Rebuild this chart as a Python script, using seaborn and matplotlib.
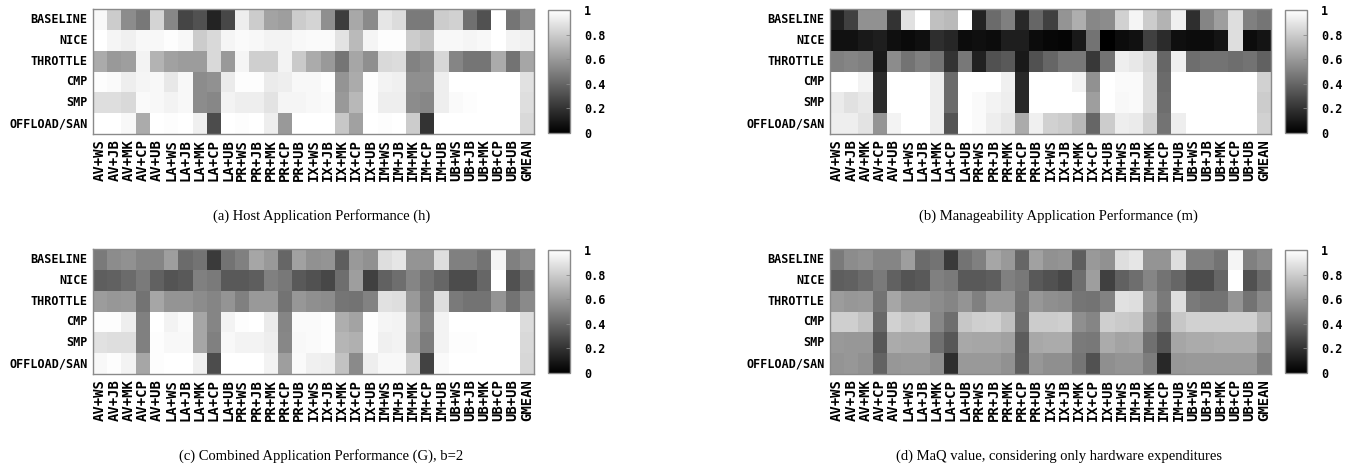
import numpy as np
import pandas as pd
import matplotlib
matplotlib.use("Agg")
import matplotlib.pyplot as plt
import seaborn as sns

configs = ["BASELINE", "NICE", "THROTTLE", "CMP", "SMP", "OFFLOAD/SAN"]
workloads = ["AV+WS", "AV+JB", "AV+MK", "AV+CP", "AV+UB",
             "LA+WS", "LA+JB", "LA+MK", "LA+CP", "LA+UB",
             "PR+WS", "PR+JB", "PR+MK", "PR+CP", "PR+UB",
             "IX+WS", "IX+JB", "IX+MK", "IX+CP", "IX+UB",
             "IM+WS", "IM+JB", "IM+MK", "IM+CP", "IM+UB",
             "UB+WS", "UB+JB", "UB+MK", "UB+CP", "UB+UB", "GMEAN"]

# (a) host application performance h
h_baseline = [0.97, 0.80, 0.55, 0.47, 0.83, 0.53, 0.27, 0.32, 0.14, 0.28, 0.93, 0.80, 0.64, 0.62, 0.80, 0.83,
              0.56, 0.24, 0.66, 0.54, 0.90, 0.86, 0.48, 0.48, 0.80, 0.82, 0.44, 0.32, 1.00, 0.46, 0.55]
h_nice = [1.00, 0.96, 0.94, 0.97, 0.97, 0.99, 0.97, 0.80, 0.85, 0.96, 0.98, 0.97, 0.95, 0.95, 0.97, 0.98,
          0.98, 0.89, 0.73, 0.96, 0.99, 0.99, 0.80, 0.76, 0.97, 0.97, 0.96, 0.97, 1.00, 0.95, 0.94]
h_throttle = [0.67, 0.60, 0.62, 0.95, 0.70, 0.63, 0.61, 0.61, 0.85, 0.60, 0.96, 0.81, 0.81, 0.95, 0.79, 0.67,
              0.60, 0.46, 0.65, 0.56, 0.85, 0.86, 0.51, 0.54, 0.84, 0.52, 0.46, 0.46, 0.67, 0.45, 0.65]
h_cmp = [0.99, 0.98, 0.93, 0.96, 0.97, 0.91, 0.97, 0.55, 0.57, 0.92, 0.99, 0.99, 0.92, 0.93, 0.97, 0.97,
         0.99, 0.58, 0.67, 0.99, 0.95, 0.94, 0.56, 0.56, 0.93, 1.00, 1.00, 1.00, 1.00, 1.00, 0.88]
h_smp = [0.87, 0.87, 0.85, 0.98, 0.97, 0.95, 0.97, 0.55, 0.53, 0.95, 0.93, 0.93, 0.89, 0.96, 0.96, 0.97,
         0.98, 0.60, 0.72, 0.99, 0.93, 0.93, 0.55, 0.53, 0.93, 0.98, 0.99, 1.00, 1.00, 1.00, 0.87]
h_offload = [1.00, 1.00, 0.97, 0.67, 1.00, 0.99, 1.00, 0.94, 0.30, 1.00, 0.99, 1.00, 0.93, 0.60, 1.00, 1.00,
             1.00, 0.78, 0.63, 1.00, 0.99, 1.00, 0.80, 0.20, 1.00, 1.00, 1.00, 1.00, 1.00, 1.00, 0.85]

# (b) manageability application performance m
m_baseline = [0.13, 0.25, 0.57, 0.57, 0.20, 0.88, 1.00, 0.75, 0.73, 1.00, 0.14, 0.42, 0.50, 0.16, 0.40, 0.25,
              0.58, 0.68, 0.53, 0.55, 0.82, 0.96, 0.80, 0.70, 0.94, 0.18, 0.52, 0.62, 0.87, 0.50, 0.46]
m_nice = [0.07, 0.07, 0.10, 0.12, 0.06, 0.04, 0.06, 0.18, 0.15, 0.05, 0.06, 0.05, 0.12, 0.12, 0.05, 0.03,
          0.02, 0.10, 0.45, 0.00, 0.05, 0.07, 0.25, 0.17, 0.06, 0.05, 0.05, 0.08, 0.87, 0.05, 0.08]
m_throttle = [0.50, 0.52, 0.50, 0.10, 0.55, 0.45, 0.50, 0.45, 0.20, 0.47, 0.13, 0.32, 0.35, 0.10, 0.32, 0.40,
              0.47, 0.47, 0.22, 0.45, 0.93, 0.91, 0.85, 0.40, 0.94, 0.43, 0.45, 0.45, 0.43, 0.45, 0.38]
m_cmp = [1.00, 1.00, 0.95, 0.17, 1.00, 1.00, 1.00, 0.93, 0.42, 1.00, 1.00, 1.00, 0.94, 0.16, 1.00, 1.00,
         1.00, 0.95, 0.57, 1.00, 0.98, 0.98, 0.87, 0.42, 1.00, 1.00, 1.00, 1.00, 1.00, 1.00, 0.82]
m_smp = [0.92, 0.88, 0.91, 0.17, 1.00, 1.00, 1.00, 0.93, 0.42, 1.00, 0.98, 0.95, 0.93, 0.16, 1.00, 1.00,
         1.00, 1.00, 0.62, 1.00, 0.97, 0.98, 0.87, 0.43, 1.00, 1.00, 1.00, 1.00, 1.00, 1.00, 0.80]
m_offload = [0.93, 0.93, 0.89, 0.58, 0.95, 1.00, 1.00, 0.93, 0.33, 1.00, 0.98, 0.93, 0.90, 0.67, 0.94, 0.82,
             0.80, 0.72, 0.40, 0.80, 0.93, 0.92, 0.82, 0.45, 0.93, 1.00, 1.00, 1.00, 1.00, 1.00, 0.82]

# (c) combined application performance G, b=2
g_baseline = [0.48, 0.55, 0.57, 0.52, 0.52, 0.62, 0.42, 0.45, 0.23, 0.45, 0.50, 0.65, 0.60, 0.40, 0.63, 0.57,
              0.58, 0.37, 0.60, 0.57, 0.87, 0.90, 0.58, 0.58, 0.87, 0.50, 0.50, 0.45, 0.96, 0.50, 0.55]
g_nice = [0.37, 0.38, 0.42, 0.48, 0.38, 0.33, 0.35, 0.50, 0.48, 0.35, 0.35, 0.37, 0.50, 0.47, 0.35, 0.32,
          0.28, 0.43, 0.62, 0.25, 0.38, 0.43, 0.52, 0.45, 0.40, 0.30, 0.30, 0.40, 1.00, 0.32, 0.42]
g_throttle = [0.61, 0.59, 0.60, 0.45, 0.65, 0.58, 0.58, 0.55, 0.52, 0.58, 0.50, 0.60, 0.60, 0.45, 0.59, 0.56,
              0.55, 0.46, 0.45, 0.51, 0.88, 0.87, 0.60, 0.48, 0.87, 0.48, 0.45, 0.45, 0.58, 0.45, 0.54]
g_cmp = [0.99, 0.99, 0.93, 0.50, 1.00, 0.95, 0.98, 0.65, 0.52, 0.95, 0.99, 1.00, 0.92, 0.52, 0.98, 0.98,
         0.99, 0.68, 0.64, 0.99, 0.96, 0.95, 0.66, 0.52, 0.95, 1.00, 1.00, 1.00, 1.00, 1.00, 0.86]
g_smp = [0.88, 0.87, 0.87, 0.50, 0.99, 0.97, 0.97, 0.65, 0.50, 0.97, 0.95, 0.95, 0.93, 0.53, 0.97, 0.98,
         0.99, 0.71, 0.69, 0.99, 0.94, 0.95, 0.64, 0.49, 0.95, 0.99, 0.99, 1.00, 1.00, 1.00, 0.85]
g_offload = [0.97, 0.99, 0.95, 0.65, 0.99, 1.00, 1.00, 0.94, 0.30, 1.00, 1.00, 1.00, 0.95, 0.62, 0.98, 0.94,
             0.93, 0.76, 0.54, 0.93, 0.97, 0.97, 0.81, 0.26, 0.98, 1.00, 1.00, 1.00, 1.00, 1.00, 0.84]

# (d) MaQ value, hardware expenditures only
q_baseline = g_baseline
q_nice = g_nice
q_throttle = g_throttle
q_cmp = [0.81, 0.81, 0.76, 0.41, 0.82, 0.78, 0.80, 0.53, 0.43, 0.78, 0.81, 0.82, 0.75, 0.43, 0.80, 0.80,
         0.81, 0.56, 0.52, 0.81, 0.79, 0.78, 0.54, 0.43, 0.78, 0.82, 0.82, 0.82, 0.82, 0.82, 0.71]
q_smp = [0.60, 0.59, 0.59, 0.34, 0.67, 0.66, 0.66, 0.44, 0.34, 0.66, 0.65, 0.65, 0.63, 0.36, 0.66, 0.67,
         0.67, 0.48, 0.47, 0.67, 0.64, 0.65, 0.44, 0.33, 0.65, 0.67, 0.67, 0.68, 0.68, 0.68, 0.58]
q_offload = [0.58, 0.59, 0.57, 0.39, 0.59, 0.60, 0.60, 0.56, 0.18, 0.60, 0.60, 0.60, 0.57, 0.37, 0.59, 0.56,
             0.56, 0.46, 0.32, 0.56, 0.58, 0.58, 0.49, 0.16, 0.59, 0.60, 0.60, 0.60, 0.60, 0.60, 0.50]

captions = ["(a) Host Application Performance (h)",
            "(b) Manageability Application Performance (m)",
            "(c) Combined Application Performance (G), b=2",
            "(d) MaQ value, considering only hardware expenditures"]

panels = [
    [h_baseline, h_nice, h_throttle, h_cmp, h_smp, h_offload],
    [m_baseline, m_nice, m_throttle, m_cmp, m_smp, m_offload],
    [g_baseline, g_nice, g_throttle, g_cmp, g_smp, g_offload],
    [q_baseline, q_nice, q_throttle, q_cmp, q_smp, q_offload],
]

W, H = 1368, 466
mono = "DejaVu Sans Mono"

fig = plt.figure(figsize=(W / 100, H / 100), dpi=100)

# pixel layout of each heatmap: (left, top)
origins = [(93, 9), (830, 9), (93, 249), (830, 249)]
hw, hh = 441, 125

for (x0, y0), rows, cap in zip(origins, panels, captions):
    ax = fig.add_axes([x0 / W, 1 - (y0 + hh) / H, hw / W, hh / H])
    cax = fig.add_axes([(x0 + 455) / W, 1 - (y0 + hh - 1) / H, 22 / W, (hh - 2) / H])
    df = pd.DataFrame(rows, index=configs, columns=workloads)
    sns.heatmap(df, ax=ax, cbar_ax=cax, cmap="gray", vmin=0, vmax=1,
                xticklabels=workloads, yticklabels=configs, linewidths=0)
    ax.tick_params(length=0, pad=4)
    ax.set_xticklabels(workloads, rotation=90, fontsize=10, fontweight="bold", family=mono)
    ax.set_yticklabels(configs, rotation=0, fontsize=8.5, fontweight="bold", family=mono)
    for sp in ax.spines.values():
        sp.set_visible(True)
        sp.set_color("#8a8a8a")
        sp.set_linewidth(1)

    cb = ax.collections[0].colorbar
    cb.outline.set_edgecolor("#8a8a8a")
    cb.outline.set_linewidth(1)
    cb.set_ticks([0, 0.2, 0.4, 0.6, 0.8, 1])
    cb.set_ticklabels(["0", "0.2", "0.4", "0.6", "0.8", "1"])
    cax.tick_params(direction="in", length=3, width=0.6, color="#8a8a8a", pad=10)
    for t in cax.get_yticklabels():
        t.set_fontsize(8.5)
        t.set_fontweight("bold")
        t.set_family(mono)

    fig.text((x0 + hw / 2 + 8) / W, 1 - (y0 + hh + 82) / H, cap,
             ha="center", va="center", fontsize=10.5, family="Liberation Serif")

fig.savefig("out.png", dpi=100)
